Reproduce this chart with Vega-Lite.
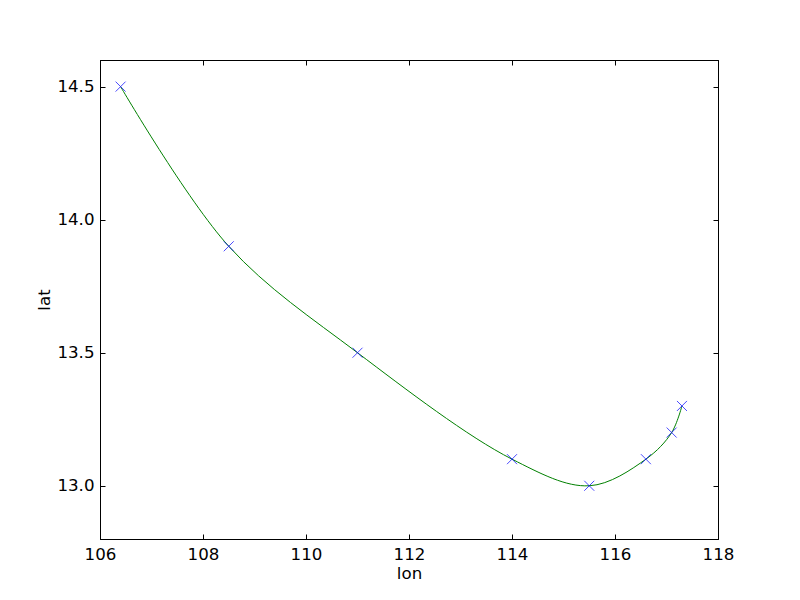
{
  "$schema": "https://vega.github.io/schema/vega-lite/v6.json",
  "autosize": {"type": "none"},
  "padding": {"left": 100, "top": 60, "right": 82, "bottom": 61},
  "width": 618,
  "height": 479,
  "background": "white",
  "config": {
    "view": {"stroke": "black", "strokeWidth": 1},
    "font": "DejaVu Sans",
    "axis": {
      "grid": false,
      "domainColor": "black",
      "domainWidth": 1,
      "tickColor": "black",
      "tickWidth": 1,
      "labelColor": "black",
      "titleColor": "black",
      "labelFont": "DejaVu Sans",
      "titleFont": "DejaVu Sans",
      "labelFontSize": 16.67,
      "titleFontSize": 16.67,
      "titleFontWeight": "normal"
    }
  },
  "data": {
    "values": [
      {"lon": 106.4, "lat": 14.5},
      {"lon": 108.5, "lat": 13.9},
      {"lon": 111.0, "lat": 13.5},
      {"lon": 114.0, "lat": 13.1},
      {"lon": 115.5, "lat": 13.0},
      {"lon": 116.6, "lat": 13.1},
      {"lon": 117.1, "lat": 13.2},
      {"lon": 117.3, "lat": 13.3}
    ]
  },
  "resolve": {"axis": {"x": "independent", "y": "independent"}},
  "layer": [
    {
      "mark": {"type": "line", "interpolate": "catmull-rom", "color": "#008000", "strokeWidth": 1},
      "encoding": {
        "x": {"field": "lon", "type": "quantitative", "scale": {"domain": [106, 118], "nice": false, "zero": false},
          "axis": {"title": "lon", "values": [106, 108, 110, 112, 114, 116, 118], "tickSize": -5, "labelPadding": 12, "titlePadding": 3, "labelFlush": false}},
        "y": {"field": "lat", "type": "quantitative", "scale": {"domain": [12.8, 14.6], "nice": false, "zero": false},
          "axis": {"title": "lat", "values": [13.0, 13.5, 14.0, 14.5], "format": ".1f", "tickSize": -5, "labelPadding": 11, "titlePadding": 3, "labelFlush": false}}
      }
    },
    {
      "mark": {"type": "point", "shape": "M-1,-1L1,1M-1,1L1,-1", "filled": false, "stroke": "#0000ff", "strokeWidth": 1, "size": 100},
      "encoding": {
        "x": {"field": "lon", "type": "quantitative",
          "axis": {"orient": "top", "title": null, "labels": false, "values": [106, 108, 110, 112, 114, 116, 118], "tickSize": -5}},
        "y": {"field": "lat", "type": "quantitative",
          "axis": {"orient": "right", "title": null, "labels": false, "values": [13.0, 13.5, 14.0, 14.5], "tickSize": -5}}
      }
    }
  ]
}
